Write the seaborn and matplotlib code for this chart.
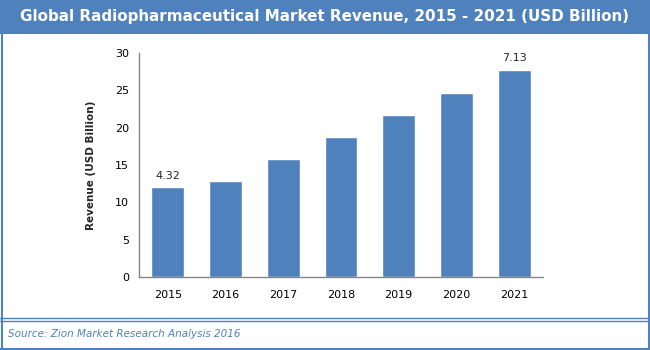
import numpy as np
import pandas as pd
import seaborn as sns
import matplotlib.pyplot as plt
from matplotlib.patches import Rectangle
from matplotlib.lines import Line2D

years = ['2015', '2016', '2017', '2018', '2019', '2020', '2021']
revenue = [12.0, 12.9, 15.8, 18.7, 21.7, 24.7, 27.7]
bar_labels = {'2015': '4.32', '2021': '7.13'}
y_ticks = [0, 5, 10, 15, 20, 25, 30]

blue = '#4F81BD'

sns.set_theme(style='white')
plt.rcParams['font.family'] = ['DejaVu Sans']

df = pd.DataFrame({'Year': years, 'Revenue': revenue})

fig = plt.figure(figsize=(6.5, 3.5), dpi=100)
ax = fig.add_axes([139 / 650, 73 / 350, 404 / 650, 224 / 350])

sns.barplot(data=df, x='Year', y='Revenue', color=blue, saturation=1,
            width=0.57, ax=ax)

ax.set_xlim(-0.5, len(years) - 0.5)
ax.set_ylim(0, 30)
ax.set_yticks(y_ticks)
ax.tick_params(axis='both', labelsize=8, colors='black', length=0, pad=7)
ax.tick_params(axis='x', pad=9)
ax.set_xlabel('')
ax.set_ylabel('Revenue (USD Billion)', fontsize=7.5, fontweight='bold', labelpad=14)

for side in ['top', 'right']:
    ax.spines[side].set_visible(False)
for side in ['left', 'bottom']:
    ax.spines[side].set_color('#868686')
    ax.spines[side].set_linewidth(1)

for i, yr in enumerate(years):
    if yr in bar_labels:
        ax.text(i, revenue[i] + 0.9, bar_labels[yr], ha='center', va='bottom', fontsize=8)

# title bar
fig.patches.append(Rectangle((0, 1 - 34 / 350), 1, 34 / 350, transform=fig.transFigure,
                             facecolor=blue, edgecolor='none', zorder=0))
fig.text(0.5, 1 - 17 / 350, 'Global Radiopharmaceutical Market Revenue, 2015 - 2021 (USD Billion)',
         ha='center', va='center', color='white', fontsize=10.9, fontweight='bold')

# frame lines
fig.lines.append(Line2D([1.5 / 650, 1.5 / 650], [0, 1], transform=fig.transFigure, color=blue, lw=1.5))
fig.lines.append(Line2D([648.5 / 650, 648.5 / 650], [0, 1], transform=fig.transFigure, color=blue, lw=1.5))
fig.lines.append(Line2D([0, 1], [1.5 / 350, 1.5 / 350], transform=fig.transFigure, color=blue, lw=1.5))
fig.lines.append(Line2D([0, 1], [1 - 318 / 350, 1 - 318 / 350], transform=fig.transFigure, color=blue, lw=1))
fig.lines.append(Line2D([0, 1], [1 - 321 / 350, 1 - 321 / 350], transform=fig.transFigure, color=blue, lw=1))

fig.text(8 / 650, 1 - 334 / 350, 'Source: Zion Market Research Analysis 2016',
         ha='left', va='center', color=blue, fontsize=7.5, style='italic',
         family=['Liberation Sans Narrow', 'DejaVu Sans'])

fig.savefig('out.png', dpi=100)
